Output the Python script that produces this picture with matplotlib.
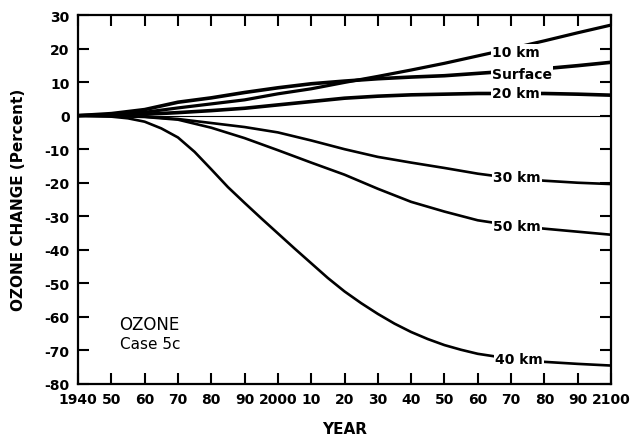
import matplotlib
matplotlib.use("Agg")
import matplotlib.pyplot as plt

# ---- data ----
years = [1940, 1950, 1960, 1970, 1980, 1990, 2000, 2010, 2020, 2030,
         2040, 2050, 2060, 2070, 2080, 2090, 2100]

km10 = [0, 0.3, 1.0, 2.3, 3.5, 4.7, 6.5, 8.0, 9.9, 11.7,
        13.6, 15.6, 17.8, 20.0, 22.3, 24.7, 27.0]
surface = [0, 0.6, 1.8, 4.0, 5.3, 6.9, 8.3, 9.5, 10.3, 11.0,
           11.5, 11.9, 12.6, 13.3, 14.0, 14.9, 15.9]
km20 = [0, 0.1, 0.4, 0.9, 1.5, 2.2, 3.2, 4.2, 5.2, 5.8,
        6.2, 6.4, 6.6, 6.6, 6.6, 6.4, 6.1]
km30 = [0, -0.1, -0.3, -1.0, -2.2, -3.4, -5.0, -7.4, -10.0, -12.3,
        -14.0, -15.6, -17.3, -18.6, -19.4, -20.0, -20.4]
km50 = [0, -0.1, -0.4, -1.2, -3.6, -6.7, -10.3, -14.0, -17.6, -21.8,
        -25.7, -28.6, -31.2, -32.7, -33.7, -34.6, -35.5]
years40 = [1940, 1950, 1955, 1960, 1965, 1970, 1975, 1980, 1985, 1990, 1995,
           2000, 2005, 2010, 2015, 2020, 2025, 2030, 2035, 2040, 2045, 2050,
           2055, 2060, 2070, 2080, 2090, 2100]
km40 = [0, -0.3, -0.8, -1.8, -3.8, -6.5, -10.8, -16.0, -21.3, -26.0, -30.6,
        -35.1, -39.6, -44.0, -48.4, -52.4, -55.9, -59.1, -62.0, -64.5, -66.6,
        -68.4, -69.8, -71.0, -72.5, -73.4, -74.0, -74.5]

curve_labels = ["10 km", "Surface", "20 km", "30 km", "50 km", "40 km"]
label_x = [2071.5, 2073.3, 2071.5, 2071.8, 2071.8, 2072.4]
label_y = [19.0, 12.3, 6.7, -18.4, -33.0, -72.5]

xticks = list(range(1940, 2101, 10))
xticklabels = ['1940', '50', '60', '70', '80', '90', '2000', '10', '20', '30',
               '40', '50', '60', '70', '80', '90', '2100']
yticks = list(range(-80, 31, 10))
yticklabels = ['-80', '-70', '-60', '-50', '-40', '-30', '-20', '-10',
               '0', '10', '20', '30']

# ---- figure ----
plt.rcParams['font.family'] = ['DejaVu Sans']
fig = plt.figure(figsize=(6.37, 4.39), dpi=100)
ax = fig.add_axes([78/637, 1-385/439, (611-78)/637, (385-16)/439])

ax.axhline(0, color='black', lw=0.8, zorder=1)

series = [(years, km10, 2.3), (years, surface, 2.6), (years, km20, 2.6),
          (years, km30, 1.9), (years, km50, 1.9), (years40, km40, 1.9)]
for (xs, ys, lw) in series:
    ax.plot(xs, ys, color='black', lw=lw, solid_capstyle='butt',
            solid_joinstyle='round', zorder=2)

for txt, tx, ty in zip(curve_labels, label_x, label_y):
    ax.text(tx, ty, txt, ha='center', va='center', fontsize=10,
            fontweight='bold', zorder=3,
            bbox=dict(facecolor='white', edgecolor='none', pad=1.0))

ax.text(1952.3, -62.0, "OZONE", fontsize=12, ha='left', va='center',
        fontweight='medium')
ax.text(1952.5, -68.0, "Case 5c", fontsize=11, ha='left', va='center',
        fontweight='medium')

ax.set_xlim(1940, 2100)
ax.set_ylim(-80, 30)
ax.set_xticks(xticks)
ax.set_xticklabels(xticklabels)
ax.set_yticks(yticks)
ax.set_yticklabels(yticklabels)
ax.tick_params(direction='in', length=8, width=1.5, top=True, right=True,
               labelsize=10, pad=6)
for lab in ax.get_xticklabels() + ax.get_yticklabels():
    lab.set_fontweight('bold')
for sp in ax.spines.values():
    sp.set_linewidth(1.6)

fig.text(18.5/637, 1-200/439, "OZONE CHANGE (Percent)", rotation=90,
         ha='center', va='center', fontsize=11, fontweight='bold')
fig.text(345/637, 1-430/439, "YEAR", ha='center', va='center',
         fontsize=11, fontweight='bold')

fig.savefig("out.png", dpi=100)
